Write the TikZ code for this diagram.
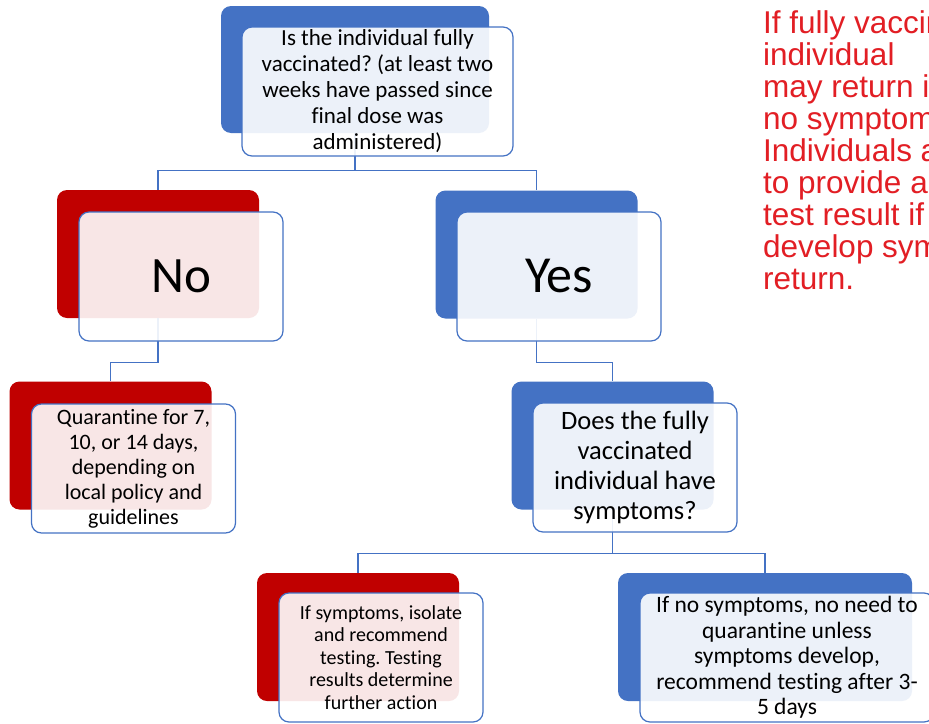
\documentclass[tikz,border=0pt]{standalone}
\usepackage{fontspec}
\setmainfont{Carlito}[Ligatures=NoCommon]
\newfontfamily\arialfont{Liberation Sans}
\definecolor{accblue}{HTML}{4472C4}
\definecolor{accred}{HTML}{C00000}
\definecolor{notered}{RGB}{226,30,36}
\frenchspacing
\begin{document}
\begin{tikzpicture}[x=1pt,y=-1pt,
  backblue/.style={fill=accblue, rounded corners=10pt, inner sep=0pt, minimum width=202pt, minimum height=128pt},
  backred/.style={fill=accred, rounded corners=10pt, inner sep=0pt, minimum width=202pt, minimum height=128pt},
  frontbox/.style={draw=accblue, line width=1.2pt, fill=white, fill opacity=0.9, text opacity=1,
    rounded corners=10pt, inner sep=0pt, align=center, minimum width=204pt, minimum height=129pt},
  conn/.style={draw=accblue, line width=1.3pt}]
\path[use as bounding box, clip] (0,0) rectangle (929,723);
\fill[white] (0,0) rectangle (929,723);
% back boxes
\node[backblue, minimum width=268pt, minimum height=127pt] (qB) at (355,69.5) {};
\node[backred] (noB) at (158,254) {};
\node[backblue] (yesB) at (536.5,254.5) {};
\node[backred] (quarB) at (110.5,445.5) {};
\node[backblue] (sympB) at (612.5,445.5) {};
\node[backred] (blB) at (358,637) {};
\node[backblue, minimum width=294pt] (brB) at (765,637) {};
% connectors
\draw[conn] (qB.south) -- ++(0,37.5) -| (noB.north);
\draw[conn] (qB.south) -- ++(0,37.5) -| (yesB.north);
\draw[conn] (noB.south) -- ++(0,44) -| (quarB.north);
\draw[conn] (yesB.south) -- ++(0,44) -| (sympB.north);
\draw[conn] (sympB.south) -- ++(0,44) -| (blB.north);
\draw[conn] (sympB.south) -- ++(0,44) -| (brB.north);
% front boxes
\node[frontbox, minimum width=271pt, font=\fontsize{23}{26}\selectfont] (qF) at (377.5,91.5)
  {Is the individual fully\\vaccinated? (at least two\\weeks have passed since\\final dose was\\administered)};
\node[frontbox, font=\fontsize{51}{60}\selectfont] (noF) at (181,276.5) {No};
\node[frontbox, font=\fontsize{52}{60}\selectfont] (yesF) at (559,276.5) {Yes};
\node[frontbox, font=\fontsize{22}{25}\selectfont] (quarF) at (133.5,468.5)
  {Quarantine for 7,\\10, or 14 days,\\depending on\\local policy and\\guidelines};
\node[frontbox, font=\fontsize{26.5}{30}\selectfont] (sympF) at (635,467.5)
  {Does the fully\\vaccinated\\individual have\\symptoms?};
\node[frontbox, font=\fontsize{20}{22.5}\selectfont] (blF) at (381,657.5)
  {If symptoms, isolate\\and recommend\\testing. Testing\\results determine\\further action};
\node[frontbox, minimum width=294pt, font=\fontsize{23.5}{25.5}\selectfont] (brF) at (787,657.5)
  {If no symptoms, no need to\\quarantine unless\\symptoms develop,\\recommend testing after 3-\\5 days};
% note
\node[anchor=north west, inner sep=0pt, align=left, text=notered,
  font=\arialfont\fontsize{31.5}{32}\selectfont] (note) at (763,10)
  {If fully vaccinated\\individual\\may return if\\no symptoms.\\Individuals are\\to provide a\\test result if\\develop symptoms\\return.};
\end{tikzpicture}
\end{document}
